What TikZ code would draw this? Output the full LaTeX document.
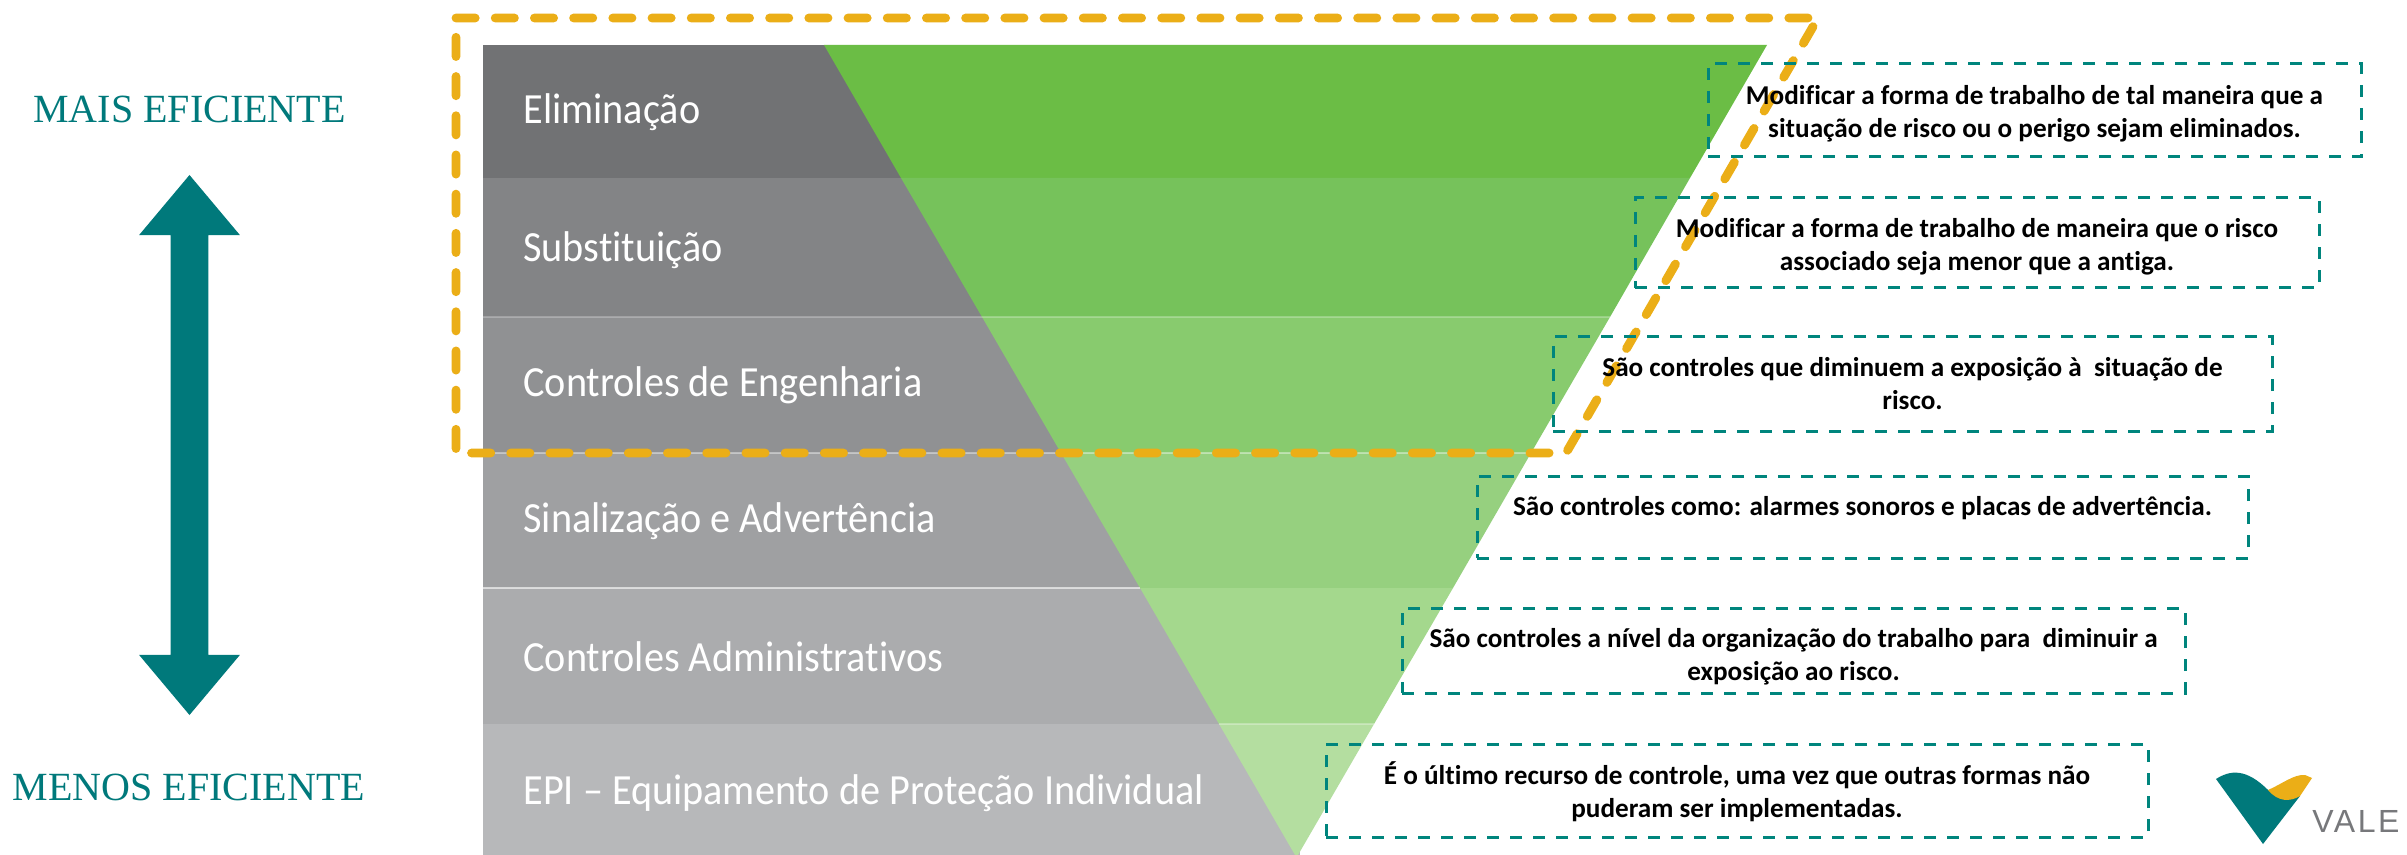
\documentclass[tikz,border=0pt]{standalone}
\usepackage{fontspec}
\setmainfont[Ligatures=NoCommon]{Carlito}
\newfontfamily\bandfont[FakeStretch=0.935,Ligatures=NoCommon]{Carlito}
\newfontfamily\effont{Liberation Serif}
\newfontfamily\valefont[LetterSpace=8]{Liberation Sans}
\usetikzlibrary{
shapes.arrows,
positioning
}
\definecolor{teal_vale}{HTML}{00797B}
\definecolor{teal_box}{HTML}{00857D}
\definecolor{yellow_vale}{HTML}{EBAE17}
\definecolor{gray_vale}{HTML}{77787B}
\begin{document}
\begin{tikzpicture}
[x=.5pt,y=-.5pt,
block_band/.style ={ anchor=west, text=white, inner sep=0, font=\bandfont\fontsize{21.5}{24}\selectfont},
block_note/.style ={ rectangle, draw=teal_box, line width=1.5pt, dash pattern=on 6pt off 5.5pt, text=black, align=center, inner sep=0, font=\bfseries\fontsize{13.6}{16.5}\selectfont},
block_eff/.style ={ text=teal_vale, inner sep=0, font=\effont\fontsize{20}{24}\selectfont},
arrow_eff/.style ={ double arrow, fill=teal_vale, rotate=90, inner xsep=0, inner ysep=9.25pt, minimum height=270pt, minimum width=50pt, double arrow head extend=15.75pt, double arrow tip angle=80},
line_outer/.style ={draw=yellow_vale, line width=4.4pt, line cap=round, line join=round, dash pattern=on 9.6pt off 10pt}
]
\useasboundingbox (0,0) rectangle (2407,855);

%%%Bands%%%
\fill[fill=white] (0,0) rectangle (2407,855);
\fill[fill={rgb,255:red,113;green,114;blue,116}] (483,45) rectangle (910,178);
\fill[fill={rgb,255:red,131;green,132;blue,134}] (483,178) rectangle (990,317);
\fill[fill={rgb,255:red,144;green,145;blue,147}] (483,317) rectangle (1070,453);
\fill[fill={rgb,255:red,159;green,160;blue,162}] (483,453) rectangle (1150,588);
\fill[fill={rgb,255:red,171;green,172;blue,174}] (483,588) rectangle (1230,724);
\fill[fill={rgb,255:red,183;green,184;blue,186}] (483,724) rectangle (1300,855);

%%%Funnel%%%
\fill[fill={rgb,255:red,107;green,189;blue,69}] (824,45) -- (1767,45) -- (1690,178) -- (901,178) -- cycle;
\fill[fill={rgb,255:red,118;green,194;blue,91}] (901,178) -- (1690,178) -- (1610,317) -- (982,317) -- cycle;
\fill[fill={rgb,255:red,136;green,203;blue,110}] (982,317) -- (1610,317) -- (1531,453) -- (1061,453) -- cycle;
\fill[fill={rgb,255:red,150;green,208;blue,127}] (1061,453) -- (1531,453) -- (1453,588) -- (1140,588) -- cycle;
\fill[fill={rgb,255:red,164;green,216;blue,141}] (1140,588) -- (1453,588) -- (1374,724) -- (1219,724) -- cycle;
\fill[fill={rgb,255:red,180;green,222;blue,160}] (1219,724) -- (1374,724) -- (1298,855) -- (1295,855) -- cycle;

%%%Separators%%%
\draw[white, opacity=.25, line width=1pt] (483,317) -- (1610,317);
\draw[white, opacity=.4, line width=1pt] (483,453) -- (1531,453);
\draw[white, opacity=.6, line width=1pt] (483,588) -- (1140,588);
\draw[white, opacity=.3, line width=1pt] (1219,724) -- (1374,724);

% Labels
\node[block_band] (band1) at (523,112) {Eliminação};
\node[block_band] (band2) at (523,250) {Substituição};
\node[block_band] (band3) at (523,385) {Controles de Engenharia};
\node[block_band] (band4) at (523,521) {Sinalização e Advertência};
\node[block_band] (band5) at (523,657) {Controles Administrativos};
\node[block_band] (band6) at (523,793) {EPI – Equipamento de Proteção Individual};

%%%Yellow frame%%%
\draw[line_outer] (456,18) -- (1818,18) -- (1566,453) -- (456,453) -- cycle;

%%%Notes%%%
\node[block_note, minimum width=326.5pt, minimum height=46.5pt] (box1) at (2034.5,110.5) {\rule{0pt}{13pt}Modificar a forma de trabalho de tal maneira que a\\situação de risco ou o perigo sejam eliminados.};
\node[block_note, minimum width=342pt, minimum height=45pt] (box2) at (1977,243) {\rule{0pt}{13pt}Modificar a forma de trabalho de maneira que o risco\\associado seja menor que a antiga.};
\node[block_note, minimum width=359.5pt, minimum height=47pt] (box3) at (1912.5,384) {São controles que diminuem a exposição à\ \ situação de\\risco.};
\node[block_note, minimum width=385.5pt, minimum height=41pt] (box4) at (1862.5,517) {São controles como: alarmes sonoros e placas de advertência.\\[-5.5pt]};
\node[block_note, minimum width=391.5pt, minimum height=42.5pt] (box5) at (1793.5,650.5) {\rule{0pt}{16pt}São controles a nível da organização do trabalho para\ \ diminuir a\\exposição ao risco.};
\node[block_note, minimum width=411pt, minimum height=46.5pt] (box6) at (1737,790.5) {\rule{0pt}{13pt}É o último recurso de controle, uma vez que outras formas não\\puderam ser implementadas.};

%%%Left side%%%
\node[block_eff] (mais) at (189.5,109) {MAIS EFICIENTE};
\node[block_eff] (menos) at (189,787) {MENOS EFICIENTE};
\node[arrow_eff] (setas) at (189.5,445) {};

%%%Logo%%%
\fill[fill=teal_vale] (2216,779) .. controls (2230,770) and (2246,768) .. (2268,790) -- (2300,796) -- (2263,844) -- cycle;
\fill[fill=yellow_vale] (2268,790) .. controls (2282,784) and (2294,774) .. (2305,775) -- (2312,778) -- (2300,796) .. controls (2290,802) and (2278,802) .. (2268,790) -- cycle;
\node[inner sep=0, anchor=west, text=gray_vale, font=\valefont\fontsize{16}{20}\selectfont] (vale) at (2312,821) {VALE};
\end{tikzpicture}
\end{document}
